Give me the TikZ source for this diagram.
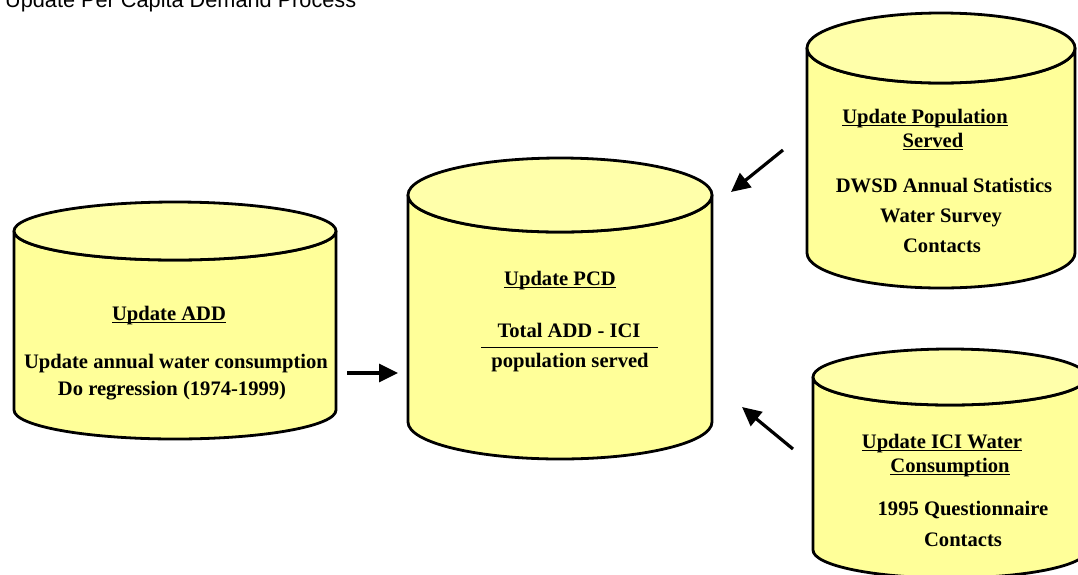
\documentclass[tikz,border=0pt]{standalone}
\usepackage{fontspec}
\usetikzlibrary{arrows.meta}
\newfontfamily\titlefont{Liberation Sans}
\newfontfamily\bodyfont{Liberation Serif}
\definecolor{cylbody}{HTML}{FFFF99}
\definecolor{cyltop}{HTML}{FFFFAA}
\newcommand\myul[1]{\setbox0\hbox{#1}\rlap{\rule[-3pt]{\wd0}{1.1pt}}\box0}
\newcommand\cyl[6]{%
  \pgfmathsetmacro\crx{(#3-#2)/2}%
  \pgfmathsetmacro\ccx{(#3+#2)/2}%
  \filldraw[cylline,fill=cylbody] (#2,#4) -- (#2,#5)
     arc[start angle=180,end angle=0,x radius=\crx,y radius=#6] -- (#3,#4)
     arc[start angle=0,end angle=180,x radius=\crx,y radius=#6] -- cycle;
  \filldraw[cylline,fill=cyltop] (\ccx,#4) ellipse[x radius=\crx,y radius=#6];
  \coordinate (#1) at (\ccx,{(#4+#5)/2});
}
\tikzset{
  cylline/.style={draw=black,line width=2.8pt,line join=round},
  txt/.style={anchor=base,inner sep=0pt,font=\bodyfont\bfseries\fontsize{20.6}{23}\selectfont},
  flow/.style={line width=3.2pt,-{Triangle[length=19pt,width=18pt]}},
}
\begin{document}
\begin{tikzpicture}[x=1pt,y=-1pt]
\useasboundingbox (0,0) rectangle (1078,574);
\clip (0,0) rectangle (1078,574);
\fill[white] (0,0) rectangle (1078,574);
\node[anchor=base west,inner sep=0pt,font=\titlefont\fontsize{21.7}{24}\selectfont] (title) at (5,7) {Update Per Capita Demand Process};

\cyl{cylL}{14}{336}{231}{410}{29}
\cyl{cylC}{408}{712}{195}{422}{37}
\cyl{cylTR}{807}{1075}{48}{253}{35}
\cyl{cylBR}{813}{1087}{377}{550}{28}

% left
\node[txt] (addh) at (169,320) {\myul{Update ADD}};
\node[txt] (add1) at (176,368) {Update annual water consumption};
\node[txt] (add2) at (172,395) {Do regression (1974-1999)};
% center
\node[txt] (pcdh) at (560,285) {\myul{Update PCD}};
\node[txt] (pcd1) at (569,337) {Total ADD - ICI};
\coordinate (fracL) at (481,347);
\coordinate (fracR) at (658,347);
\draw[line width=0.8pt] (fracL) -- (fracR);
\node[txt] (pcd2) at (570,367) {population served};
% top right
\node[txt] (poph1) at (925,123) {\myul{Update Population}};
\node[txt] (poph2) at (933,147) {\myul{Served}};
\node[txt] (pop1) at (944,192) {DWSD Annual Statistics};
\node[txt] (pop2) at (941,222) {Water Survey};
\node[txt] (pop3) at (942,252) {Contacts};
% bottom right
\node[txt] (icih1) at (942,448) {\myul{Update ICI Water}};
\node[txt] (icih2) at (950,472) {\myul{Consumption}};
\node[txt] (ici1) at (963,515) {1995 Questionnaire};
\node[txt] (ici2) at (963,546) {Contacts};

% arrows
\coordinate (a1s) at (347,373);
\coordinate (a1e) at (398,373);
\coordinate (a2s) at (783,150);
\coordinate (a2e) at (731,192);
\coordinate (a3s) at (793,449);
\coordinate (a3e) at (742,407);
\draw[flow] (a1s) -- (a1e);
\draw[flow] (a2s) -- (a2e);
\draw[flow] (a3s) -- (a3e);
\end{tikzpicture}
\end{document}
